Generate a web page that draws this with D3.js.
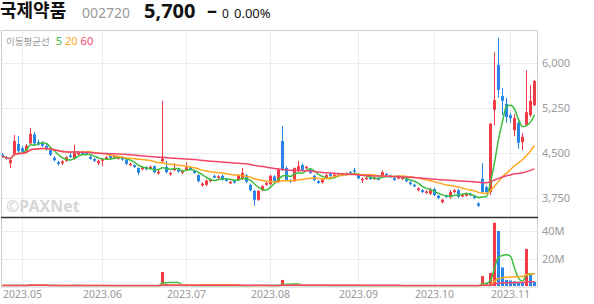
<!DOCTYPE html>
<html>
<head>
<meta charset="utf-8">
<script src="https://cdn.jsdelivr.net/npm/d3@7"></script>
<style>
  body { margin: 0; background: #fff; }
  svg { display: block; font-family: "Noto Sans", "Noto Sans CJK KR", sans-serif; }
</style>
</head>
<body>
<div id="chart"></div>
<script>
// 국제약품 (002720) daily candles, 2023-04-24 .. 2023-11-09, with 5/20/60 moving averages.

// x-axis month ticks: trading-day index of the first session of each month
const monthTickIdx = [5, 25, 46, 67, 89, 108, 127];
const monthLabels = ["2023.05", "2023.06", "2023.07", "2023.08", "2023.09", "2023.10", "2023.11"];

const priceTicks = [3750, 4500, 5250, 6000];
const volTicks = [20000, 40000];          // thousand shares
const maPeriods = [5, 20, 60];

const opens = [
  4470, 4430, 4330, 4470, 4650, 4580, 4530, 4660, 4810, 4680,
  4660, 4620, 4550, 4420, 4350, 4330, 4370, 4460, 4400, 4480,
  4520, 4500, 4440, 4400, 4330, 4370, 4400, 4450, 4420, 4410,
  4430, 4390, 4300, 4300, 4250, 4230, 4260, 4240, 4280, 4160,
  4360, 4270, 4150, 4210, 4220, 4170, 4220, 4260, 4200, 4130,
  3960, 3970, 4030, 4120, 4090, 4120, 4060, 4000, 4030, 4050,
  4070, 4130, 3970, 3870, 3720, 3880, 3970, 3980, 4110, 4020,
  4700, 4250, 4050, 4030, 4200, 4300, 4250, 4220, 4120, 4030,
  4010, 4080, 4150, 4110, 4120, 4130, 4140, 4180, 4210, 4130,
  4050, 4070, 4090, 4070, 4080, 4120, 4150, 4120, 4080, 4080,
  4070, 4060, 4010, 3970, 3880, 3880, 3840, 3820, 3900, 3790,
  3680, 3790, 3760, 3850, 3880, 3780, 3790, 3820, 3780, 3660,
  4070, 3930, 3850, 5220, 5970, 5450, 5320, 5130, 4880, 5000,
  4680, 4970, 5130, 5300
];
const highs = [
  4500, 4450, 4400, 4800, 4780, 4620, 4650, 4920, 4850, 4720,
  4700, 4650, 4570, 4450, 4370, 4380, 4450, 4520, 4640, 4530,
  4540, 4520, 4460, 4420, 4390, 4410, 4450, 4470, 4470, 4450,
  4450, 4400, 4340, 4310, 4260, 4280, 4280, 4290, 4290, 4220,
  5370, 4370, 4190, 4330, 4240, 4220, 4350, 4280, 4220, 4150,
  4010, 4060, 4080, 4140, 4130, 4140, 4080, 4040, 4050, 4150,
  4250, 4150, 3990, 3890, 3880, 3960, 4020, 4140, 4130, 4250,
  4950, 4280, 4070, 4260, 4370, 4320, 4290, 4240, 4140, 4050,
  4080, 4150, 4170, 4160, 4160, 4170, 4180, 4200, 4250, 4150,
  4090, 4100, 4110, 4100, 4100, 4210, 4170, 4140, 4100, 4120,
  4110, 4080, 4030, 3990, 3930, 3900, 3880, 3920, 3920, 3800,
  3740, 3810, 3880, 3900, 3900, 3820, 3840, 3840, 3790, 3680,
  4330, 3960, 5000, 6180, 6420, 5580, 5420, 5170, 5150, 5030,
  4830, 5880, 5630, 5720
];
const lows = [
  4420, 4380, 4250, 4450, 4500, 4500, 4500, 4640, 4620, 4620,
  4600, 4540, 4450, 4360, 4290, 4300, 4350, 4420, 4390, 4460,
  4470, 4450, 4390, 4350, 4300, 4280, 4380, 4400, 4400, 4390,
  4370, 4300, 4280, 4250, 4130, 4210, 4210, 4220, 4160, 4140,
  4340, 4160, 4120, 4200, 4170, 4150, 4200, 4210, 4150, 4010,
  3940, 3950, 4010, 4080, 4070, 4040, 4020, 3980, 3990, 4030,
  4050, 4000, 3860, 3620, 3700, 3860, 3950, 3960, 4000, 4000,
  4200, 4040, 4000, 4020, 4180, 4200, 4230, 4150, 4030, 3980,
  3990, 4060, 4100, 4090, 4100, 4110, 4120, 4140, 4170, 4060,
  4000, 4050, 4050, 4050, 4040, 4100, 4110, 4080, 4030, 4060,
  4050, 4010, 3960, 3930, 3860, 3830, 3820, 3800, 3780, 3730,
  3660, 3750, 3740, 3830, 3750, 3760, 3770, 3780, 3730, 3600,
  3830, 3830, 3800, 4960, 5420, 5130, 5000, 5000, 4780, 4570,
  4550, 4950, 5100, 5280
];
const closes = [
  4440, 4400, 4380, 4700, 4530, 4520, 4620, 4820, 4660, 4640,
  4620, 4560, 4470, 4380, 4320, 4360, 4430, 4430, 4520, 4500,
  4480, 4470, 4400, 4370, 4370, 4400, 4430, 4420, 4450, 4430,
  4390, 4320, 4320, 4270, 4170, 4260, 4230, 4270, 4180, 4190,
  4410, 4180, 4170, 4250, 4190, 4200, 4260, 4230, 4170, 4030,
  3990, 4040, 4060, 4090, 4110, 4050, 4040, 4020, 4010, 4130,
  4170, 4020, 3880, 3720, 3870, 3950, 4000, 4120, 4020, 4220,
  4220, 4050, 4030, 4250, 4280, 4220, 4270, 4170, 4050, 4000,
  4060, 4130, 4120, 4140, 4140, 4150, 4160, 4160, 4190, 4080,
  4070, 4090, 4070, 4090, 4060, 4180, 4130, 4100, 4050, 4100,
  4090, 4030, 3980, 3950, 3910, 3850, 3860, 3880, 3800, 3750,
  3720, 3770, 3850, 3880, 3770, 3800, 3820, 3800, 3750, 3620,
  3850, 3850, 4990, 5380, 5550, 5370, 5100, 5080, 5080, 4670,
  4770, 5180, 5370, 5700
];
// thousand shares
const volumes = [
  320, 250, 380, 600, 520, 300, 280, 1300, 650, 350,
  300, 260, 310, 280, 240, 220, 260, 230, 420, 250,
  210, 190, 230, 200, 210, 220, 190, 180, 200, 170,
  190, 230, 180, 200, 280, 190, 170, 160, 210, 180,
  10200, 1500, 600, 450, 300, 250, 320, 240, 220, 260,
  310, 280, 230, 200, 190, 240, 200, 180, 170, 230,
  280, 250, 300, 420, 380, 290, 240, 300, 260, 520,
  4400, 1100, 450, 600, 520, 380, 300, 280, 320, 260,
  250, 270, 220, 200, 190, 180, 200, 190, 230, 250,
  200, 180, 170, 160, 180, 260, 220, 200, 210, 190,
  170, 200, 230, 210, 250, 220, 190, 240, 280, 260,
  300, 240, 290, 250, 270, 210, 200, 190, 230, 350,
  7200, 2100, 9500, 46000, 40000, 13500, 4500, 4000, 3400, 3100,
  2600, 27000, 8000, 3000
];

const W = 594, H = 304;
const UP = "#f13b46", DOWN = "#2a87e8";
const maColors = ["#3dbd3d", "#ffa623", "#f2456b"];

function movingAvg(arr, n) {
  // shorter window at the left edge, where earlier sessions are not shown
  return arr.map((_, i) => d3.mean(arr.slice(Math.max(0, i - n + 1), i + 1)));
}

const svg = d3.select("#chart").append("svg").attr("width", W).attr("height", H);
svg.append("rect").attr("width", W).attr("height", H).attr("fill", "#fff");

const x = d3.scaleBand()
  .domain(d3.range(closes.length))
  .range([0.5, 536.5])
  .paddingInner(0.25)
  .paddingOuter(0.125);
const xc = i => x(i) + x.bandwidth() / 2;
const y = d3.scaleLinear().domain([3750, 6000]).range([198, 63]);
const yv = d3.scaleLinear().domain([0, 40000]).range([286, 231]);

// ---- header
const head = svg.append("g");
head.append("text").attr("x", 0).attr("y", 17).attr("font-size", 18).attr("font-weight", 700)
  .attr("font-family", "'Noto Sans CJK KR'").attr("fill", "#111").text("국제약품");
head.append("text").attr("x", 82).attr("y", 18).attr("font-size", 14).attr("fill", "#999").text("002720");
head.append("text").attr("x", 144).attr("y", 18).attr("font-size", 20).attr("font-weight", 700)
  .attr("fill", "#111").text("5,700");
head.append("text").attr("x", 207).attr("y", 17).attr("font-size", 20).attr("font-weight", 700)
  .attr("fill", "#111").text("–");
head.append("text").attr("x", 222).attr("y", 18).attr("font-size", 12).attr("fill", "#111").text("0");
head.append("text").attr("x", 234).attr("y", 18).attr("font-size", 13).attr("fill", "#111").text("0.00%");

// ---- grid
const grid = svg.append("g").attr("stroke", "#ececec").attr("stroke-width", 1);
grid.selectAll(".hp").data(priceTicks).join("line")
  .attr("x1", 2).attr("x2", 537).attr("y1", d => Math.round(y(d)) + 0.5).attr("y2", d => Math.round(y(d)) + 0.5);
grid.selectAll(".hv").data(volTicks).join("line")
  .attr("x1", 2).attr("x2", 537).attr("y1", d => Math.round(yv(d)) + 0.5).attr("y2", d => Math.round(yv(d)) + 0.5);
grid.selectAll(".vm").data(monthTickIdx).join("line")
  .attr("x1", d => xc(d)).attr("x2", d => xc(d)).attr("y1", 31).attr("y2", 287);

// ---- frame
svg.append("rect").attr("x", 1.5).attr("y", 30.5).attr("width", 536).attr("height", 256.5)
  .attr("fill", "none").attr("stroke", "#cfcfcf");
svg.append("line").attr("x1", 1).attr("x2", 538).attr("y1", 217.5).attr("y2", 217.5)
  .attr("stroke", "#333").attr("stroke-width", 1.3);

// ---- watermark + legend
svg.append("text").attr("x", 6).attr("y", 212).attr("font-size", 16).attr("font-weight", 700)
  .attr("fill", "#d6d6d6").text("©PAXNet");
const leg = svg.append("text").attr("x", 6).attr("y", 45).attr("font-size", 11);
leg.append("tspan").attr("font-size", 9.5).attr("font-family", "'Noto Sans CJK KR'").attr("fill", "#999").text("이동평균선");
maPeriods.forEach((p, k) => {
  leg.append("tspan").attr("dx", k === 0 ? 6 : 3).attr("fill", maColors[k]).text(p);
});

// ---- clip regions
const defs = svg.append("defs");
defs.append("clipPath").attr("id", "clipP").append("rect").attr("x", 2).attr("y", 31).attr("width", 535).attr("height", 186);
defs.append("clipPath").attr("id", "clipV").append("rect").attr("x", 2).attr("y", 218).attr("width", 535).attr("height", 68.5);

// ---- candles
const idx = d3.range(closes.length);
const pg = svg.append("g").attr("clip-path", "url(#clipP)");
const col = i => closes[i] >= opens[i] ? UP : DOWN;
pg.selectAll(".wick").data(idx).join("line")
  .attr("x1", xc).attr("x2", xc)
  .attr("y1", i => y(highs[i])).attr("y2", i => y(lows[i]))
  .attr("stroke", col).attr("stroke-width", 1);
pg.selectAll(".body").data(idx).join("rect")
  .attr("x", i => x(i)).attr("width", x.bandwidth())
  .attr("y", i => y(Math.max(opens[i], closes[i])))
  .attr("height", i => Math.max(1.5, Math.abs(y(opens[i]) - y(closes[i]))))
  .attr("fill", col);

const line = d3.line().x((d, i) => xc(i)).y(d => y(d)).curve(d3.curveMonotoneX);
maPeriods.forEach((p, k) => {
  pg.append("path").datum(movingAvg(closes, p)).attr("d", line)
    .attr("fill", "none").attr("stroke", maColors[k]).attr("stroke-width", 1.5);
});

// ---- volume
const vg = svg.append("g").attr("clip-path", "url(#clipV)");
vg.selectAll(".vol").data(idx).join("rect")
  .attr("x", i => x(i)).attr("width", x.bandwidth())
  .attr("y", i => yv(volumes[i])).attr("height", i => yv(0) - yv(volumes[i]))
  .attr("fill", i => (i === 0 || volumes[i] >= volumes[i - 1]) ? UP : DOWN);
const vline = d3.line().x((d, i) => xc(i)).y(d => yv(d)).curve(d3.curveMonotoneX);
maPeriods.forEach((p, k) => {
  vg.append("path").datum(movingAvg(volumes, p)).attr("d", vline)
    .attr("fill", "none").attr("stroke", maColors[k]).attr("stroke-width", 1.5);
});

// ---- axes
const styleAxis = g => {
  g.select(".domain").remove();
  g.selectAll("text").attr("fill", "#999").attr("font-size", 11)
    .attr("font-family", "'Noto Sans', sans-serif");
};
svg.append("g").attr("transform", "translate(538,0)")
  .call(d3.axisRight(y).tickValues(priceTicks).tickSize(0).tickPadding(4).tickFormat(d3.format(",")))
  .call(styleAxis);
svg.append("g").attr("transform", "translate(538,0)")
  .call(d3.axisRight(yv).tickValues(volTicks).tickSize(0).tickPadding(4).tickFormat(d => d / 1000 + "M"))
  .call(styleAxis);
svg.append("g").attr("transform", "translate(0,287)")
  .call(d3.axisBottom(x).tickValues(monthTickIdx).tickSize(0).tickPadding(4)
    .tickFormat(d => monthLabels[monthTickIdx.indexOf(d)]))
  .call(styleAxis)
  .call(g => g.selectAll("text").attr("font-size", 10.5));
</script>
</body>
</html>
